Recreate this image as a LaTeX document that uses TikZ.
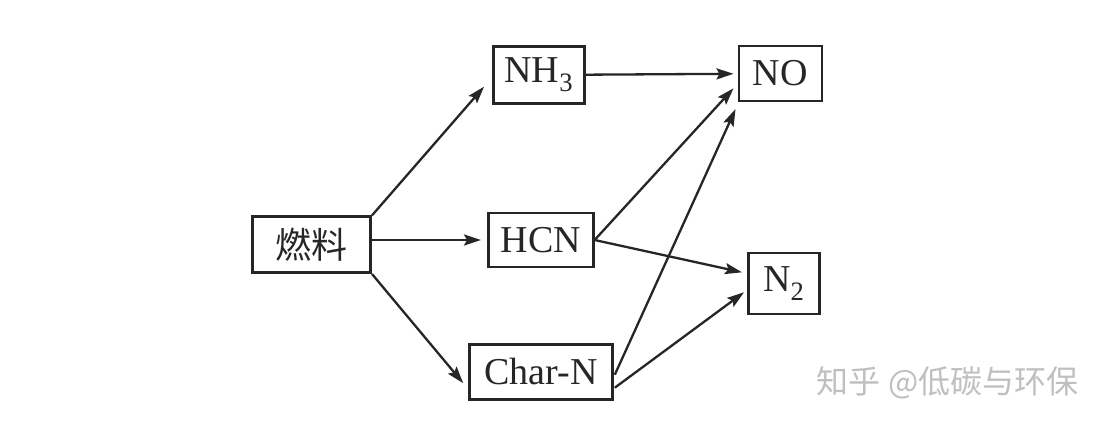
\documentclass[tikz,border=0pt]{standalone}
\usepackage{fontspec}
\setmainfont{Liberation Serif}
\newfontfamily\cjk{Noto Sans CJK SC}
\usetikzlibrary{arrows.meta,calc}
\begin{document}
\begin{tikzpicture}[x=1pt,y=-1pt,
  box/.style={draw=black!85, line width=2.6pt, inner sep=0pt, font=\fontsize{38}{40}\selectfont, text=black!85},
  arr/.style={draw=black!85, line width=2.3pt, -{Stealth[length=17pt,width=11pt,inset=3pt]}},
  wmark/.style={text=black!25, font=\cjk\fontsize{32}{34}\selectfont}]
\useasboundingbox[fill=white] (0,0) rectangle (1115,434);
\node[box, minimum width=118pt, minimum height=56pt] (fuel) at (311.7,244.7) {\cjk\fontsize{36}{38}\selectfont 燃料};
\node[box, minimum width=91pt, minimum height=57pt] (nh3) at (538.8,74.7) {NH\textsubscript{3}};
\node[box, minimum width=105pt, minimum height=54pt] (hcn) at (540.8,240) {HCN};
\node[box, minimum width=143pt, minimum height=55pt] (charn) at (541,371.7) {Char-N};
\node[box, minimum width=83pt, minimum height=55pt] (no) at (780.3,73.3) {NO};
\node[box, minimum width=71pt, minimum height=61pt] (n2) at (783.8,283.3) {N\textsubscript{2}};
\node[wmark, anchor=west, inner sep=0pt] (wm) at (816,383) {知乎\hspace{8pt}@低碳与环保};
\draw[arr] (fuel.north east) -- ($(nh3.west)+(-8,12)$);
\draw[arr] (fuel.east |- hcn.west) -- ($(hcn.west)+(-6,0)$);
\draw[arr] (fuel.south east) -- ($(charn.west)+(-5,11.5)$);
\draw[arr] (nh3.east) -- ($(no.west)+(-4,0.5)$);
\draw[arr] (hcn.east) -- ($(no.west)+(-4,15)$);
\draw[arr] (hcn.east) -- ($(n2.west)+(-5,-11)$);
\draw[arr] ($(charn.east)+(1,3)$) -- ($(no.south west)+(-2,7)$);
\draw[arr] ($(charn.east)+(1,16)$) -- ($(n2.west)+(-3,9)$);
\end{tikzpicture}
\end{document}
